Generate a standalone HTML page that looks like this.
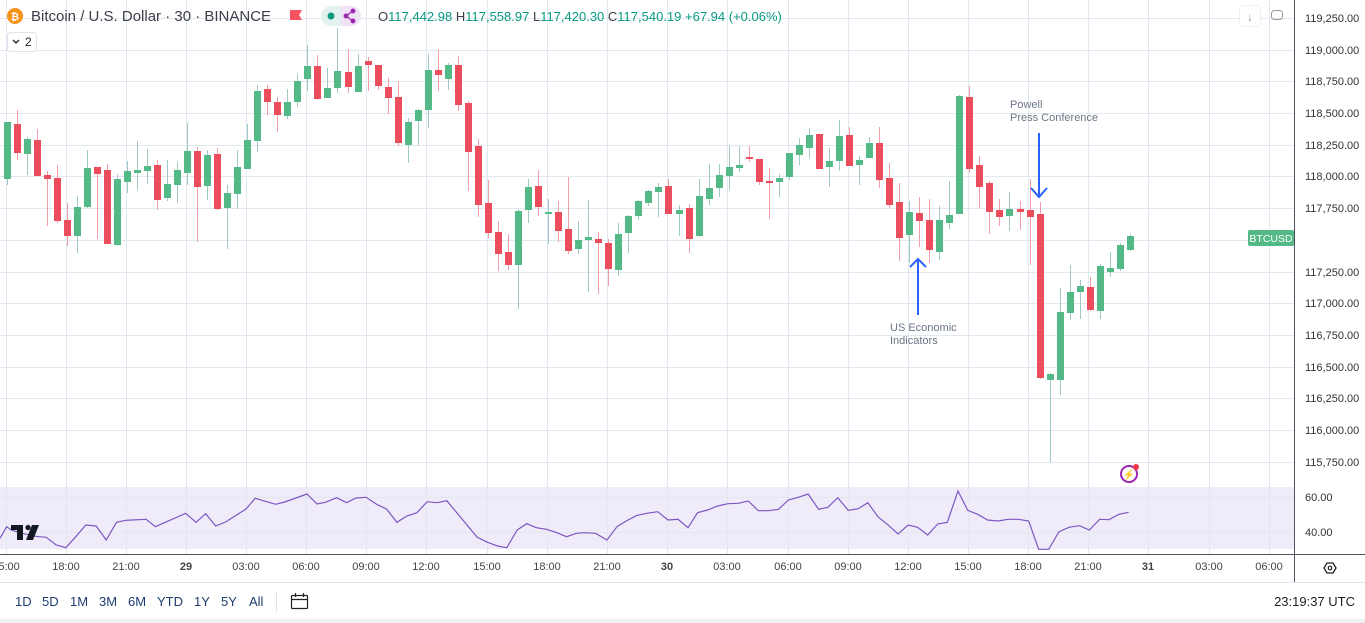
<!DOCTYPE html>
<html><head><meta charset="utf-8"><style>
html,body{margin:0;padding:0;background:#fff;width:1365px;height:623px;overflow:hidden;font-family:"Liberation Sans",sans-serif;}
svg{position:absolute;left:0;top:0;}
</style></head><body>
<svg width="1365" height="623" viewBox="0 0 1365 623" xmlns="http://www.w3.org/2000/svg" font-family="Liberation Sans, sans-serif">
<rect x="0" y="487" width="1294" height="62" fill="#efebf8"/>
<g id="grid" stroke="#e2e8ef" stroke-width="1"></g>
<g id="candles"></g>
<polyline id="rsi" fill="none" stroke="#7e57c2" stroke-width="1.2" points=""/>
<line x1="1294.5" y1="0" x2="1294.5" y2="582" stroke="#50535e" stroke-width="1"/>
<line x1="0" y1="554.5" x2="1365" y2="554.5" stroke="#50535e" stroke-width="1"/>
<line x1="0" y1="582.5" x2="1365" y2="582.5" stroke="#e0e3eb" stroke-width="1"/>
<rect x="0" y="619" width="1365" height="4" fill="#eef0f3"/>
<g id="plab" font-size="11" fill="#333" ></g>
<g font-size="11" fill="#333">
<text x="1305" y="501">60.00</text><text x="1305" y="536">40.00</text>
</g>
<g font-size="11" fill="#444" text-anchor="middle">
<text x="6" y="570">15:00</text><text x="66" y="570">18:00</text><text x="126" y="570">21:00</text><text x="186" y="570" font-weight="bold">29</text><text x="246" y="570">03:00</text><text x="306" y="570">06:00</text><text x="366" y="570">09:00</text><text x="426" y="570">12:00</text><text x="487" y="570">15:00</text><text x="547" y="570">18:00</text><text x="607" y="570">21:00</text><text x="667" y="570" font-weight="bold">30</text><text x="727" y="570">03:00</text><text x="788" y="570">06:00</text><text x="848" y="570">09:00</text><text x="908" y="570">12:00</text><text x="968" y="570">15:00</text><text x="1028" y="570">18:00</text><text x="1088" y="570">21:00</text><text x="1148" y="570" font-weight="bold">31</text><text x="1209" y="570">03:00</text><text x="1269" y="570">06:00</text>
</g>
<polygon points="1324,568 1327,563 1333,563 1336,568 1333,573 1327,573" fill="none" stroke="#222" stroke-width="1.3"/>
<circle cx="1330" cy="568" r="1.8" fill="none" stroke="#222" stroke-width="1.2"/>
<rect x="1248" y="230" width="46" height="16" rx="2" fill="#53b987"/>
<text x="1271" y="242" font-size="10.5" fill="#fff" text-anchor="middle">BTCUSD</text>
<g stroke="#2962ff" stroke-width="2" fill="none">
<line x1="918" y1="259" x2="918" y2="315"/><polyline points="910,267 918,259 926,267"/>
<line x1="1039" y1="133" x2="1039" y2="197"/><polyline points="1031,188 1039,197 1047,188"/>
</g>
<g font-size="11" fill="#6a7585">
<text x="890" y="331">US Economic</text><text x="890" y="344">Indicators</text>
<text x="1010" y="108">Powell</text><text x="1010" y="121">Press Conference</text>
</g>
<circle cx="15" cy="16" r="8" fill="#f7931a"/>
<text x="15" y="20" font-size="10" font-weight="bold" fill="#fff" text-anchor="middle">₿</text>
<text x="31" y="21" font-size="15" fill="#3b3e48">Bitcoin / U.S. Dollar · 30 · BINANCE</text>
<path d="M290,10 h12 l-3,5 l3,5 h-12 z" fill="#f7525f"/>
<rect x="321" y="6" width="40" height="20" rx="10" fill="#e3f2ef"/>
<path d="M341,6 h10 a10,10 0 0 1 0,20 h-10 z" fill="#f1e3f6"/>
<circle cx="331" cy="16" r="3.5" fill="#089981"/>
<g stroke="#9c27b0" stroke-width="1.3" fill="#9c27b0"><line x1="346" y1="16" x2="353" y2="11"/><line x1="346" y1="16" x2="353" y2="21"/><circle cx="346" cy="16" r="1.8"/><circle cx="353" cy="11" r="1.8"/><circle cx="353" cy="21" r="1.8"/></g>
<text x="378" y="21" font-size="13" fill="#089981"><tspan fill="#3b3e48">O</tspan>117,442.98 <tspan fill="#3b3e48">H</tspan>117,558.97 <tspan fill="#3b3e48">L</tspan>117,420.30 <tspan fill="#3b3e48">C</tspan>117,540.19 +67.94 (+0.06%)</text>
<rect x="7.5" y="32.5" width="29" height="19" rx="3" fill="#fff" stroke="#e0e3eb"/>
<polyline points="13,40 16,43 19,40" fill="none" stroke="#222" stroke-width="1.3"/>
<text x="25" y="46" font-size="12" fill="#222">2</text>
<rect x="1239.5" y="5.5" width="21" height="21" rx="3" fill="#fff" stroke="#eef0f3"/>
<text x="1250" y="21" font-size="12" fill="#999" text-anchor="middle">↓</text>
<rect x="1271.5" y="10.5" width="11" height="9" rx="3" fill="none" stroke="#999"/>
<g fill="#131722"><rect x="11" y="525" width="12" height="5"/><rect x="17" y="525" width="6" height="15"/><circle cx="28" cy="527.5" r="2.6"/><polygon points="32,525 39,525 33,540 26,540"/></g>
<circle cx="1129" cy="474" r="8" fill="none" stroke="#9c27b0" stroke-width="2"/>
<text x="1129" y="478" font-size="10" fill="#9c27b0" text-anchor="middle">⚡</text>
<circle cx="1136" cy="467" r="3" fill="#f23645"/>
<g font-size="13" fill="#1e3d6e">
<text x="15" y="606">1D</text><text x="42" y="606">5D</text><text x="70" y="606">1M</text><text x="99" y="606">3M</text><text x="128" y="606">6M</text><text x="157" y="606">YTD</text><text x="194" y="606">1Y</text><text x="221" y="606">5Y</text><text x="249" y="606">All</text>
</g>
<line x1="276.5" y1="591" x2="276.5" y2="612" stroke="#e0e3eb"/>
<g fill="none" stroke="#222" stroke-width="1.2"><rect x="291.5" y="595.5" width="16" height="13" rx="1"/><line x1="291" y1="599.5" x2="308" y2="599.5"/><line x1="295.5" y1="593" x2="295.5" y2="597"/><line x1="303.5" y1="593" x2="303.5" y2="597"/></g>
<text x="1355" y="606" font-size="13" fill="#222" text-anchor="end">23:19:37 UTC</text>
</svg>
<script>
var NS="http://www.w3.org/2000/svg";
function el(p,t,a){var e=document.createElementNS(NS,t);for(var k in a)e.setAttribute(k,a[k]);p.appendChild(e);return e;}
var g=document.getElementById('grid');
var ty=[18,50,81,113,145,176,208,240,272,303,335,367,398,430,462];
ty.forEach(function(y){el(g,'line',{x1:0,y1:y+.5,x2:1294,y2:y+.5});});
[497,532].forEach(function(y){el(g,'line',{x1:0,y1:y+.5,x2:1294,y2:y+.5});});
var tx=[6,66,126,186,246,306,366,426,487,547,607,667,727,788,848,908,968,1028,1088,1148,1209,1269];
tx.forEach(function(x){el(g,'line',{x1:x+.5,y1:0,x2:x+.5,y2:554});});
var pl=document.getElementById('plab');
var pr=["119,250.00","119,000.00","118,750.00","118,500.00","118,250.00","118,000.00","117,750.00","117,500.00","117,250.00","117,000.00","116,750.00","116,500.00","116,250.00","116,000.00","115,750.00"];
ty.forEach(function(y,i){if(i==7)return;var t=el(pl,'text',{x:1305,y:y+4});t.textContent=pr[i];});
var D=[[122,179,122,185,1],[124,153,110,160,0],[139,154,137,175,1],[140,176,129,176,0],[175,179,171,226,0],[178,221,165,223,0],[220,236,203,246,0],[207,236,196,253,1],[168,207,150,208,1],[167,174,167,239,0],[170,244,164,244,0],[179,245,174,246,1],[171,182,161,193,1],[170,173,141,190,1],[166,171,149,184,1],[165,200,160,210,0],[184,198,160,201,1],[170,185,162,203,1],[151,173,123,185,1],[151,187,147,242,0],[155,186,150,200,1],[154,209,148,210,0],[193,208,185,249,1],[167,194,150,209,1],[140,169,124,152,1],[91,141,85,152,1],[89,102,85,115,0],[102,115,97,132,0],[102,116,89,119,1],[81,102,74,107,1],[66,79,45,91,1],[66,99,55,100,0],[88,98,68,98,1],[71,88,28,93,1],[72,87,49,93,0],[66,92,54,92,1],[61,65,57,91,0],[65,86,65,90,0],[87,98,78,114,0],[97,143,81,146,0],[122,145,118,163,1],[110,121,109,145,1],[70,110,54,128,1],[70,75,49,91,0],[65,79,63,90,1],[65,105,56,111,0],[103,152,101,191,0],[146,205,139,217,0],[203,233,180,238,0],[232,254,221,271,0],[252,265,234,270,0],[211,265,209,309,1],[187,210,179,223,1],[186,207,170,216,0],[212,214,199,244,1],[212,231,201,242,0],[229,251,177,254,0],[240,249,221,254,1],[237,240,200,292,1],[239,243,232,294,0],[243,269,239,286,0],[234,270,223,276,1],[216,233,215,253,1],[201,216,200,220,1],[191,203,190,206,1],[187,192,183,217,1],[186,214,179,214,0],[210,214,205,236,1],[208,239,204,253,0],[196,236,179,237,1],[188,199,164,205,1],[175,188,164,197,1],[167,176,146,190,1],[165,168,146,172,1],[157,159,146,162,0],[159,182,159,185,0],[181,182,168,219,0],[178,182,174,197,1],[153,177,153,180,1],[145,155,138,165,1],[135,148,128,158,1],[134,169,134,169,0],[161,167,148,187,1],[136,161,120,171,1],[135,166,127,166,0],[160,165,156,185,1],[143,158,137,158,1],[143,180,127,188,0],[178,205,163,208,0],[202,238,183,261,0],[212,235,201,263,1],[213,221,197,247,0],[220,250,199,263,0],[220,252,206,260,1],[215,223,181,229,1],[96,214,95,214,1],[97,169,86,173,0],[165,187,156,208,0],[183,212,181,234,0],[210,217,199,226,0],[209,216,192,231,1],[209,212,201,230,0],[210,217,179,265,0],[214,378,202,379,0],[374,380,373,462,1],[312,380,288,395,1],[292,313,265,320,1],[286,292,280,319,1],[287,310,277,311,0],[266,311,264,319,1],[268,272,252,277,1],[245,269,243,271,1],[236,250,234,251,1]];
var cg=document.getElementById('candles');
D.forEach(function(d,i){var cx=Math.round(6.5+10.03*i);var gr=d[4];
el(cg,'rect',{x:cx,y:d[2],width:1,height:Math.max(1,d[3]-d[2]),fill:gr?'#9fcac8':'#f49ca8'});
el(cg,'rect',{x:cx-3,y:d[0],width:7,height:Math.max(2,d[1]-d[0]),fill:gr?'#53b987':'#eb4d5c'});});
var A=[[0,175],[18,140],[30,150],[60,160],[90,168],[105,170],[125,172],[152,195],[178,203],[205,170],[232,135],[260,138],[287,180],[315,127],[340,121],[395,118],[420,140],[502,100],[530,127],[556,101],[583,138],[610,126],[665,87],[690,55],[745,73],[770,66],[830,42],[857,72],[880,67],[910,53],[937,68],[962,54],[990,52],[1020,74],[1045,87],[1073,127],[1100,108],[1127,98],[1155,65],[1182,68],[1208,62],[1290,172],[1318,187],[1345,198],[1370,203],[1398,150],[1424,131],[1450,143],[1478,148],[1505,158],[1532,170],[1558,160],[1580,158]];
var B=[[42,160],[73,180],[100,140],[125,123],[152,107],[180,100],[210,95],[238,120],[265,118],[292,143],[318,98],[345,90],[372,78],[400,71],[428,70],[455,63],[482,92],[510,92],[537,88],[563,60],[590,52],[617,42],[645,88],[670,82],[697,53],[725,91],[752,86],[778,68],[806,111],[834,136],[860,162],[887,135],[913,142],[940,165],[967,132],[993,127],[1022,33],[1048,91],[1075,103],[1102,120],[1130,123],[1157,118],[1185,118],[1213,123],[1240,208],[1267,208],[1295,155],[1322,142],[1350,137],[1377,150],[1405,118],[1430,119],[1457,103],[1483,97]];
var kx=580/1568;
var pts=A.map(function(p){return (p[0]*kx).toFixed(1)+','+(480+p[1]/3).toFixed(1);}).concat(B.map(function(p){return (580+p[0]*kx).toFixed(1)+','+(480+p[1]/3).toFixed(1);}));
document.getElementById('rsi').setAttribute('points',pts.join(' '));
</script>
</body></html>
